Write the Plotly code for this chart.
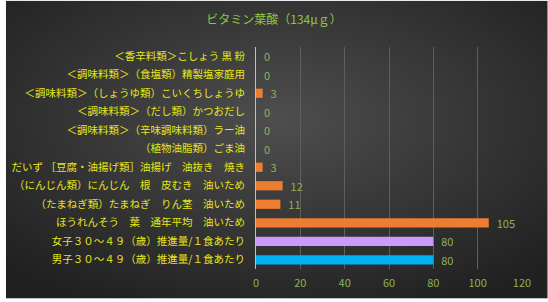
import base64
import plotly.graph_objects as go

categories = [
    "＜香辛料類＞こしょう 黒 粉",
    "＜調味料類＞（食塩類）精製塩家庭用",
    "＜調味料類＞（しょうゆ類）こいくちしょうゆ",
    "＜調味料類＞（だし類）かつおだし",
    "＜調味料類＞（辛味調味料類）ラー油",
    "（植物油脂類）ごま油",
    "だいず ［豆腐・油揚げ類］油揚げ　油抜き　焼き",
    "（にんじん類）にんじん　根　皮むき　油いため",
    "（たまねぎ類）たまねぎ　りん茎　油いため",
    "ほうれんそう　葉　通年平均　油いため",
    "女子３０～４９（歳）推進量/１食あたり",
    "男子３０～４９（歳）推進量/１食あたり",
]
values = [0, 0, 3, 0, 0, 0, 3, 12, 11, 105, 80, 80]
bar_colors = ["#ED7D31"] * 10 + ["#CC99FF", "#00B0F0"]
title_text = "ビタミン葉酸（134μｇ）"
x_ticks = [0, 20, 40, 60, 80, 100, 120]

W, H = 548, 302
ml, mr, mt, mb = 253, 26, 47, 30
pw, ph = W - ml - mr, H - mt - mb

svg = ('<svg xmlns="http://www.w3.org/2000/svg" width="548" height="302">'
       '<defs><radialGradient id="g" cx="50%" cy="40%" r="70%">'
       '<stop offset="0" stop-color="#4e4e4e"/><stop offset="1" stop-color="#202020"/>'
       '</radialGradient></defs><rect width="548" height="302" fill="url(#g)"/></svg>')
src = "data:image/svg+xml;base64," + base64.b64encode(svg.encode()).decode()

fig = go.Figure(go.Bar(
    x=values, y=categories, orientation="h",
    marker=dict(color=bar_colors, line=dict(width=0)),
    text=["\u00a0\u00a0" + str(v) for v in values], textposition="outside",
    constraintext="none",
    textfont=dict(color="#8DB255", size=11, family="Noto Sans CJK JP"),
    cliponaxis=False,
))

fig.update_layout(
    width=W, height=H,
    margin=dict(l=ml, r=mr, t=mt, b=mb),
    paper_bgcolor="rgba(0,0,0,0)", plot_bgcolor="rgba(0,0,0,0)",
    bargap=0.5,
    showlegend=False,
    title=dict(text=title_text, x=0.5, xanchor="center", y=1 - 20 / H, yanchor="middle",
               font=dict(color="#8DC63F", size=12, family="Noto Sans CJK JP")),
    font=dict(family="Noto Sans CJK JP"),
    images=[dict(source=src, xref="paper", yref="paper",
                 x=-ml / pw, y=(H - mb) / ph, sizex=W / pw, sizey=H / ph,
                 xanchor="left", yanchor="top", sizing="stretch", layer="below")],
    xaxis=dict(range=[0, 120], tickvals=x_ticks, showgrid=True, gridcolor="#5E5E5E",
               gridwidth=1, zeroline=False, showline=False,
               tickfont=dict(color="#8DB255", size=11), ticks="", ticklabelstandoff=6),
    yaxis=dict(autorange="reversed", showgrid=False, showline=True, linecolor="#BFBFBF",
               linewidth=1, ticks="", ticklabelstandoff=8,
               tickfont=dict(color="#E6E619", size=10.5, family="Noto Sans CJK JP")),
)

fig.write_html("out.html")
